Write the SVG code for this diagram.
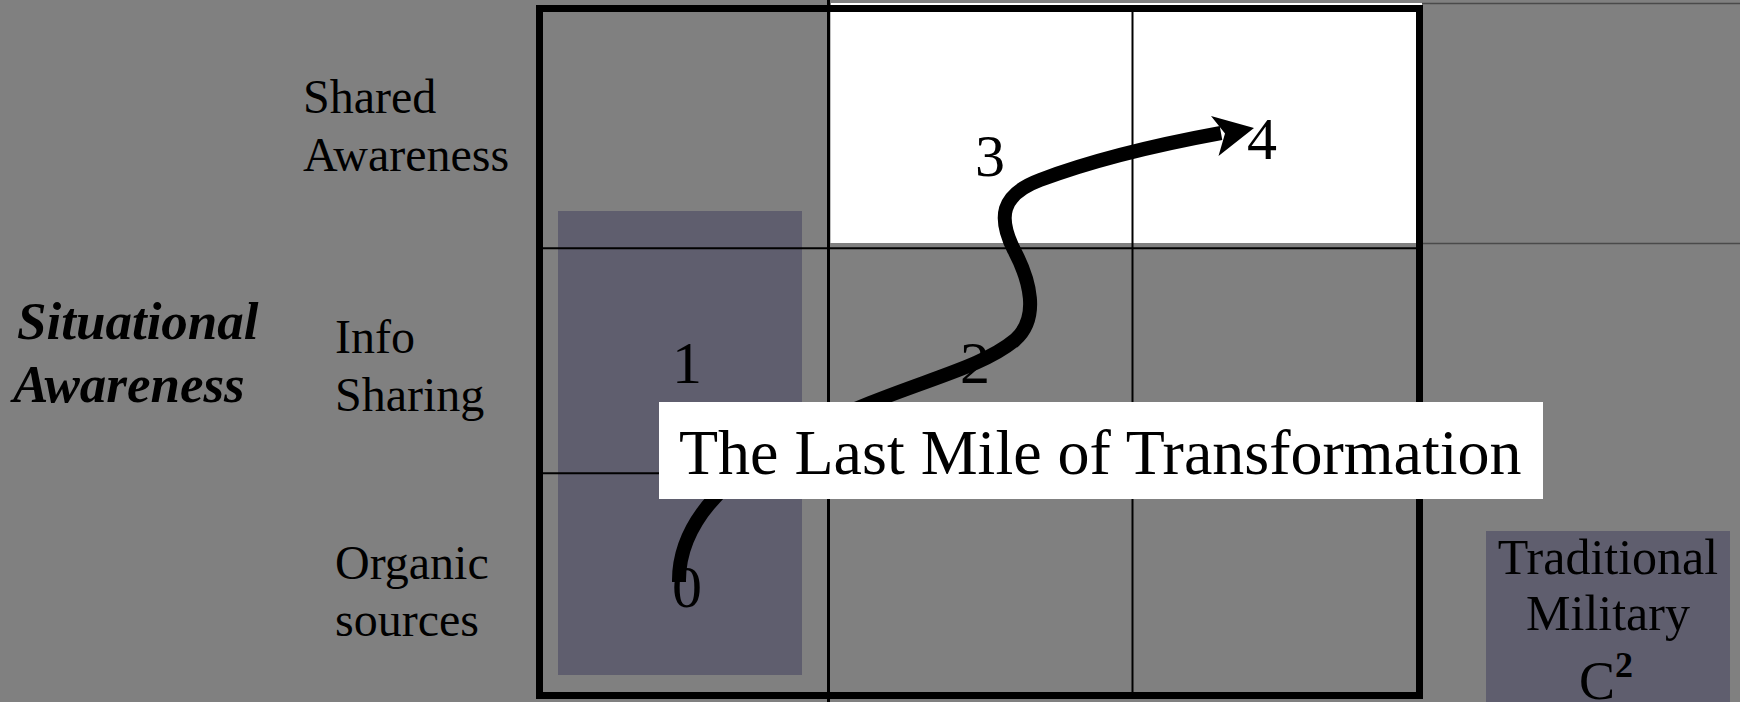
<svg xmlns="http://www.w3.org/2000/svg" width="1740" height="702" viewBox="0 0 1740 702">
<style>
.serif{font-family:"Liberation Serif","Times New Roman",serif;fill:#000}
.lbl{font-size:48px}
.sa{font-size:53px;font-weight:bold;font-style:italic}
.num{font-size:60px;text-anchor:middle}
.grid{stroke:#000;fill:none}
.thin{stroke:#4a4a4a;stroke-width:1.5}
.purple{fill:#5f5e6e}
</style>
<rect width="1740" height="702" fill="#808080"/>
<g id="matrix">
  <rect x="830.5" y="12" width="586" height="231" fill="#ffffff"/>
  <rect class="purple" x="558" y="211" width="244" height="464"/>
  <line x1="831" y1="4" x2="1422" y2="4" stroke="#ffffff" stroke-width="2"/>
  <line class="thin" x1="1422" y1="3.5" x2="1740" y2="3.5"/>
  <line class="thin" x1="1422" y1="243.5" x2="1740" y2="243.5"/>
  <line class="grid" x1="828.5" y1="0" x2="828.5" y2="702" stroke-width="3"/>
  <line class="grid" x1="1132.5" y1="9" x2="1132.5" y2="696" stroke-width="2"/>
  <line class="grid" x1="540" y1="248.3" x2="1420" y2="248.3" stroke-width="2"/>
  <line class="grid" x1="540" y1="473.3" x2="1420" y2="473.3" stroke-width="2"/>
  <rect class="grid" x="539.5" y="8.5" width="880" height="687" stroke-width="7"/>
</g>
<g id="axis-label">
  <text class="serif sa" x="17" y="339">Situational</text>
  <text class="serif sa" x="13" y="402">Awareness</text>
</g>
<g id="row-shared">
  <text class="serif lbl" x="303" y="113">Shared</text>
  <text class="serif lbl" x="303" y="171">Awareness</text>
</g>
<g id="row-info">
  <text class="serif lbl" x="335" y="353">Info</text>
  <text class="serif lbl" x="335" y="411">Sharing</text>
</g>
<g id="row-organic">
  <text class="serif lbl" x="335" y="579">Organic</text>
  <text class="serif lbl" x="335" y="636">sources</text>
</g>
<g id="stages">
  <text class="serif num" x="687" y="607">0</text>
  <text class="serif num" x="687" y="383">1</text>
  <text class="serif num" x="975" y="383">2</text>
  <text class="serif num" x="990" y="176">3</text>
  <text class="serif num" x="1262" y="159">4</text>
</g>
<g id="connectors">
  <path d="M 679 582 C 678 515, 740 455, 870 403 C 935 377, 985 365, 1015 340 C 1040 318, 1030 280, 1014 250 C 998 218, 1000 195, 1040 180 C 1085 163, 1150 146, 1221 133" fill="none" stroke="#000" stroke-width="14" stroke-linecap="butt"/>
  <polygon points="1254,128 1211,116 1225,133.5 1218.5,156" fill="#000"/>
</g>
<g id="title">
  <rect x="659" y="402" width="884" height="97" fill="#ffffff"/>
  <text class="serif" x="679" y="474" font-size="64">The Last Mile of Transformation</text>
</g>
<g id="traditional">
  <rect class="purple" x="1486" y="531" width="244" height="171"/>
  <text class="serif" x="1608" y="574" font-size="50" text-anchor="middle">Traditional</text>
  <text class="serif" x="1608" y="630" font-size="50" text-anchor="middle">Military</text>
  <text class="serif" x="1606" y="699" font-size="54" text-anchor="middle">C<tspan font-size="36" font-weight="bold" dy="-22">2</tspan></text>
</g>
</svg>
